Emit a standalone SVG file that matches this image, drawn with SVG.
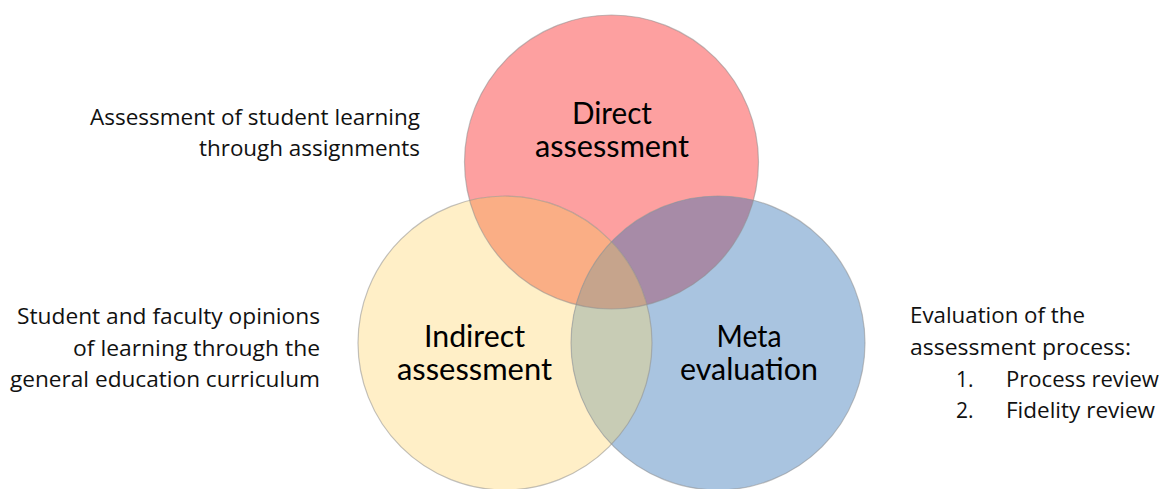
<svg xmlns="http://www.w3.org/2000/svg" width="1161" height="489" viewBox="0 0 1161 489">
  <style>
    .label { font-family: "Lato", "Open Sans", sans-serif; font-size: 30px; fill: #000; text-anchor: middle; }
    .note { font-family: "Open Sans", "Noto Sans", sans-serif; font-size: 21px; fill: #111; }
    .right { text-anchor: end; }
    .ring { fill: none; stroke: #8f8f8f; stroke-opacity: 0.55; stroke-width: 1.2; }
  </style>
  <defs>
    <circle id="c-direct" cx="611.5" cy="162" r="147"/>
    <circle id="c-indirect" cx="505" cy="343" r="147"/>
    <circle id="c-meta" cx="718" cy="343" r="147"/>
    <clipPath id="clip-direct"><use href="#c-direct"/></clipPath>
    <clipPath id="clip-indirect"><use href="#c-indirect"/></clipPath>
    <clipPath id="clip-meta"><use href="#c-meta"/></clipPath>
  </defs>

  <rect width="1161" height="489" fill="#ffffff"/>

  <!-- base discs -->
  <g id="direct">
    <use href="#c-direct" fill="#FDA0A0"/>
  </g>
  <g id="indirect">
    <use href="#c-indirect" fill="#FFEFC7"/>
  </g>
  <g id="meta">
    <use href="#c-meta" fill="#A9C4E0"/>
  </g>

  <!-- overlap regions -->
  <g id="overlaps">
    <g clip-path="url(#clip-direct)">
      <use href="#c-indirect" fill="#FAAE85"/>
      <use href="#c-meta" fill="#A78BA7"/>
    </g>
    <g clip-path="url(#clip-indirect)">
      <use href="#c-meta" fill="#C8CCB5"/>
    </g>
    <g clip-path="url(#clip-direct)">
      <g clip-path="url(#clip-indirect)">
        <use href="#c-meta" fill="#C6A48C"/>
      </g>
    </g>
  </g>

  <!-- outlines -->
  <g id="outlines">
    <use href="#c-direct" class="ring"/>
    <use href="#c-indirect" class="ring"/>
    <use href="#c-meta" class="ring"/>
  </g>

  <!-- circle labels -->
  <g id="direct-label">
    <text class="label" x="612" y="124" textLength="80" lengthAdjust="spacingAndGlyphs">Direct</text>
    <text class="label" x="612" y="157" textLength="154" lengthAdjust="spacingAndGlyphs">assessment</text>
  </g>
  <g id="indirect-label">
    <text class="label" x="474.5" y="347" textLength="101" lengthAdjust="spacingAndGlyphs">Indirect</text>
    <text class="label" x="474.5" y="380" textLength="155" lengthAdjust="spacingAndGlyphs">assessment</text>
  </g>
  <g id="meta-label">
    <text class="label" x="749" y="347" textLength="65" lengthAdjust="spacingAndGlyphs">Meta</text>
    <text class="label" x="749" y="380" textLength="138" lengthAdjust="spacingAndGlyphs">evaluation</text>
  </g>

  <!-- side descriptions -->
  <g id="note-direct">
    <text class="note right" x="420" y="125" textLength="330" lengthAdjust="spacingAndGlyphs">Assessment of student learning</text>
    <text class="note right" x="420" y="156" textLength="221" lengthAdjust="spacingAndGlyphs">through assignments</text>
  </g>
  <g id="note-indirect">
    <text class="note right" x="320" y="324" textLength="303" lengthAdjust="spacingAndGlyphs">Student and faculty opinions</text>
    <text class="note right" x="320" y="356" textLength="247" lengthAdjust="spacingAndGlyphs">of learning through the</text>
    <text class="note right" x="320" y="387" textLength="310" lengthAdjust="spacingAndGlyphs">general education curriculum</text>
  </g>
  <g id="note-meta">
    <text class="note" x="910" y="323" textLength="175" lengthAdjust="spacingAndGlyphs">Evaluation of the</text>
    <text class="note" x="910" y="355" textLength="221" lengthAdjust="spacingAndGlyphs">assessment process:</text>
    <text class="note" x="956" y="387">1.</text>
    <text class="note" x="1006" y="387" textLength="153" lengthAdjust="spacingAndGlyphs">Process review</text>
    <text class="note" x="956" y="418">2.</text>
    <text class="note" x="1006" y="418" textLength="149" lengthAdjust="spacingAndGlyphs">Fidelity review</text>
  </g>
</svg>
